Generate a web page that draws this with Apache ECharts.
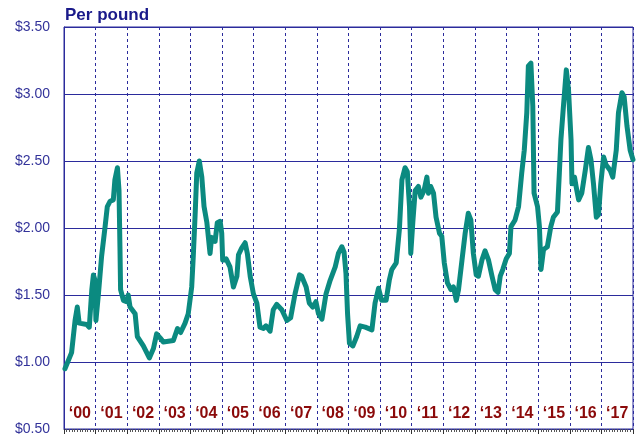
<!DOCTYPE html>
<html>
<head>
<meta charset="utf-8">
<script src="https://cdn.jsdelivr.net/npm/echarts@6/dist/echarts.min.js"></script>
<style>
  html, body { margin: 0; padding: 0; background: #fff; }
  #chart { width: 644px; height: 437px; }
</style>
</head>
<body>
<div id="chart"></div>
<script>
  // year labels shown inside the plot, one per year
  const yearLabels = ['\u201800', '\u201801', '\u201802', '\u201803', '\u201804', '\u201805', '\u201806', '\u201807', '\u201808',
    '\u201809', '\u201810', '\u201811', '\u201812', '\u201813', '\u201814', '\u201815', '\u201816', '\u201817'];

  // time in decimal years, price in dollars per pound
  const years = [
    2000.03, 2000.24, 2000.35, 2000.42, 2000.48, 2000.72, 2000.80, 2000.88, 2000.93, 2000.98,
    2001.01, 2001.09, 2001.19, 2001.30, 2001.37, 2001.46, 2001.56, 2001.61, 2001.69, 2001.74,
    2001.77, 2001.79, 2001.88, 2001.98, 2002.03, 2002.09, 2002.25, 2002.32, 2002.51, 2002.70,
    2002.83, 2002.93, 2003.04, 2003.14, 2003.46, 2003.59, 2003.69, 2003.83, 2003.93, 2004.04,
    2004.09, 2004.15, 2004.20, 2004.28, 2004.36, 2004.43, 2004.52, 2004.62, 2004.67, 2004.78,
    2004.85, 2004.94, 2004.99, 2005.02, 2005.13, 2005.25, 2005.36, 2005.47, 2005.52, 2005.62,
    2005.73, 2005.80, 2005.89, 2005.99, 2006.10, 2006.20, 2006.31, 2006.39, 2006.52, 2006.62,
    2006.73, 2006.89, 2007.05, 2007.17, 2007.31, 2007.45, 2007.52, 2007.66, 2007.76, 2007.87,
    2007.97, 2008.05, 2008.16, 2008.29, 2008.42, 2008.58, 2008.68, 2008.79, 2008.86, 2008.92,
    2008.97, 2009.03, 2009.14, 2009.26, 2009.37, 2009.53, 2009.74, 2009.84, 2009.95, 2010.05,
    2010.19, 2010.29, 2010.37, 2010.51, 2010.61, 2010.69, 2010.79, 2010.86, 2010.93, 2010.97,
    2011.04, 2011.11, 2011.21, 2011.29, 2011.39, 2011.48, 2011.53, 2011.60, 2011.69, 2011.77,
    2011.88, 2011.95, 2012.03, 2012.13, 2012.24, 2012.32, 2012.41, 2012.48, 2012.59, 2012.69,
    2012.79, 2012.87, 2012.95, 2013.04, 2013.11, 2013.22, 2013.32, 2013.43, 2013.54, 2013.64,
    2013.73, 2013.80, 2013.88, 2013.99, 2014.09, 2014.14, 2014.27, 2014.38, 2014.48, 2014.56,
    2014.64, 2014.69, 2014.77, 2014.83, 2014.87, 2014.98, 2015.04, 2015.09, 2015.17, 2015.29,
    2015.40, 2015.48, 2015.61, 2015.67, 2015.72, 2015.80, 2015.89, 2015.96, 2016.04, 2016.07,
    2016.15, 2016.20, 2016.28, 2016.38, 2016.49, 2016.59, 2016.67, 2016.75, 2016.84, 2016.91,
    2016.98, 2017.07, 2017.15, 2017.28, 2017.36, 2017.47, 2017.54, 2017.65, 2017.72, 2017.81,
    2017.91, 2018.00
  ];
  const prices = [
    0.95, 1.07, 1.31, 1.41, 1.29, 1.28, 1.26, 1.54, 1.65, 1.61,
    1.31, 1.51, 1.79, 2.01, 2.16, 2.20, 2.21, 2.36, 2.45, 2.28,
    1.86, 1.54, 1.46, 1.45, 1.50, 1.41, 1.36, 1.19, 1.12, 1.03,
    1.10, 1.21, 1.18, 1.15, 1.16, 1.25, 1.22, 1.29, 1.36, 1.56,
    1.79, 2.11, 2.41, 2.50, 2.38, 2.16, 2.04, 1.81, 1.93, 1.90,
    2.04, 2.05, 1.96, 1.76, 1.77, 1.71, 1.56, 1.64, 1.80, 1.85,
    1.89, 1.81, 1.64, 1.51, 1.44, 1.26, 1.25, 1.27, 1.23, 1.39,
    1.43, 1.39, 1.31, 1.33, 1.51, 1.65, 1.64, 1.56, 1.44, 1.41,
    1.45, 1.36, 1.32, 1.51, 1.61, 1.71, 1.81, 1.86, 1.82, 1.66,
    1.36, 1.14, 1.12, 1.19, 1.27, 1.26, 1.24, 1.44, 1.55, 1.46,
    1.46, 1.61, 1.69, 1.74, 1.99, 2.36, 2.45, 2.42, 2.16, 1.81,
    2.06, 2.28, 2.31, 2.23, 2.28, 2.38, 2.26, 2.31, 2.26, 2.08,
    1.96, 1.94, 1.74, 1.59, 1.54, 1.56, 1.46, 1.54, 1.76, 1.96,
    2.11, 2.06, 1.81, 1.65, 1.64, 1.76, 1.83, 1.76, 1.64, 1.54,
    1.52, 1.64, 1.69, 1.77, 1.81, 2.01, 2.06, 2.16, 2.41, 2.58,
    2.86, 3.21, 3.23, 2.91, 2.26, 2.16, 2.01, 1.69, 1.84, 1.86,
    2.01, 2.08, 2.12, 2.41, 2.66, 2.91, 3.18, 3.03, 2.66, 2.33,
    2.38, 2.31, 2.21, 2.26, 2.43, 2.60, 2.51, 2.33, 2.08, 2.10,
    2.33, 2.53, 2.47, 2.43, 2.38, 2.58, 2.86, 3.01, 2.98, 2.76,
    2.58, 2.51
  ];

  let chart = echarts.init(document.getElementById('chart'));

  let points = [];
  for (let i = 0; i < years.length; i++) {
    points.push([years[i], prices[i]]);
  }

  const navy = '#2b2b9c';

  let option = {
    animation: false,
    textStyle: { fontFamily: 'Liberation Sans, Arial, sans-serif' },
    title: {
      text: 'Per pound',
      left: 65,
      top: 7,
      padding: 0,
      textStyle: { color: '#1a1a8a', fontSize: 17, fontWeight: 'bold', fontFamily: 'Liberation Sans, Arial, sans-serif' }
    },
    grid: {
      left: 64,
      right: 11,
      top: 27,
      bottom: 8,
      show: true,
      borderColor: navy,
      borderWidth: 1
    },
    xAxis: [
      {
        type: 'value',
        min: 2000,
        max: 2018,
        interval: 1,
        axisLine: { show: true, lineStyle: { color: navy } },
        axisTick: { show: true, length: 5, lineStyle: { color: '#333' } },
        minorTick: { show: true, splitNumber: 12, length: 3, lineStyle: { color: '#555' } },
        axisLabel: { show: false },
        splitLine: { show: true, lineStyle: { color: navy, type: [3, 3], width: 1 } }
      },
      {
        type: 'category',
        data: yearLabels,
        position: 'bottom',
        offset: 0,
        boundaryGap: true,
        axisLine: { show: false },
        axisTick: { show: false },
        splitLine: { show: false },
        axisLabel: {
          inside: true,
          margin: 7,
          color: '#8b0a0a',
          fontSize: 16,
          fontWeight: 'bold',
          interval: 0
        }
      }
    ],
    yAxis: {
      type: 'value',
      min: 0.5,
      max: 3.5,
      interval: 0.5,
      axisLine: { show: true, lineStyle: { color: navy } },
      axisTick: { show: false },
      axisLabel: {
        color: '#33339a',
        fontSize: 14,
        margin: 14,
        formatter: function (v) { return '$' + v.toFixed(2); }
      },
      splitLine: { show: true, lineStyle: { color: navy, width: 1 } }
    },
    series: [
      {
        type: 'line',
        data: points,
        xAxisIndex: 0,
        showSymbol: false,
        smooth: false,
        lineStyle: { color: '#0b8a80', width: 5, join: 'round', cap: 'round' }
      }
    ]
  };

  chart.setOption(option);
</script>
</body>
</html>
